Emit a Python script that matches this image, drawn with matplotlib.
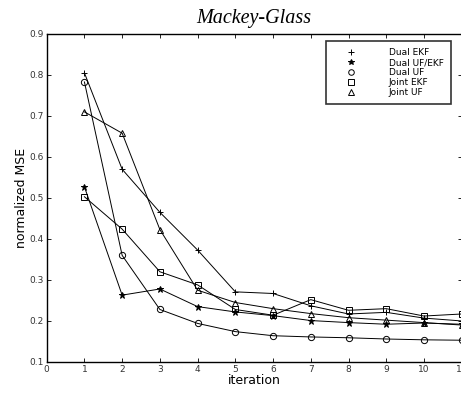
import numpy as np
import matplotlib
matplotlib.use("Agg")
import matplotlib.pyplot as plt
from matplotlib.lines import Line2D

iterations = [1, 2, 3, 4, 5, 6, 7, 8, 9, 10, 11]
dual_ekf = [0.805, 0.570, 0.465, 0.373, 0.271, 0.267, 0.237, 0.217, 0.221, 0.207, 0.200]
dual_ukf_ekf = [0.527, 0.263, 0.278, 0.235, 0.222, 0.213, 0.201, 0.196, 0.192, 0.195, 0.192]
dual_ukf = [0.783, 0.360, 0.228, 0.194, 0.174, 0.164, 0.161, 0.159, 0.156, 0.154, 0.153]
joint_ekf = [0.503, 0.424, 0.320, 0.288, 0.228, 0.214, 0.252, 0.226, 0.230, 0.212, 0.217]
joint_ukf = [0.710, 0.658, 0.423, 0.275, 0.245, 0.230, 0.218, 0.208, 0.202, 0.196, 0.190]
names = ["Dual EKF", "Dual UF/EKF", "Dual UF", "Joint EKF", "Joint UF"]
markers = ["+", "*", "o", "s", "^"]

fig = plt.figure(figsize=(4.61, 3.93), dpi=100)
ax = fig.add_axes([46.7/461, 0.079, (461.7-46.7)/461, 0.8345])

series = [dual_ekf, dual_ukf_ekf, dual_ukf, joint_ekf, joint_ukf]
sizes = [5, 4.5, 4.5, 4, 4.5]
for s, m, ms in zip(series, markers, sizes):
    ax.plot(iterations, s, color="black", lw=0.7, marker=m, ms=ms,
            mfc="none" if m in "os^" else "black", mec="black", mew=0.7)

ax.set_xlim(0, 11)
ax.set_ylim(0.1, 0.9)
ax.set_xticks(range(0, 12))
ax.set_yticks(np.arange(0.1, 0.91, 0.1))
ax.set_yticklabels(["%.1f" % v for v in np.arange(0.1, 0.91, 0.1)])
ax.tick_params(direction="in", top=True, right=True, labelsize=6.5, length=3,
               width=0.6, colors="black", labelcolor="#333333", pad=2)
for sp in ax.spines.values():
    sp.set_linewidth(1.0)

ax.set_xlabel("iteration", fontsize=9, labelpad=0)
ax.set_ylabel("normalized MSE", fontsize=9, labelpad=1)
ax.set_title("Mackey-Glass", fontsize=14.5, family="Liberation Serif",
             style="italic", pad=8)

handles = [Line2D([], [], ls="none", marker=m, color="black", ms=4,
                  mfc="none" if m in "os^" else "black", mew=0.7)
           for m in markers]
leg = ax.legend(handles, names, loc="upper right", bbox_to_anchor=(0.974, 0.979),
                fontsize=6.5, frameon=True, fancybox=False, edgecolor="black",
                handlelength=4.0, handletextpad=2.2, labelspacing=0.1,
                borderpad=0.8, borderaxespad=0)
leg.get_frame().set_linewidth(1.2)

fig.savefig("out.png", dpi=100)
